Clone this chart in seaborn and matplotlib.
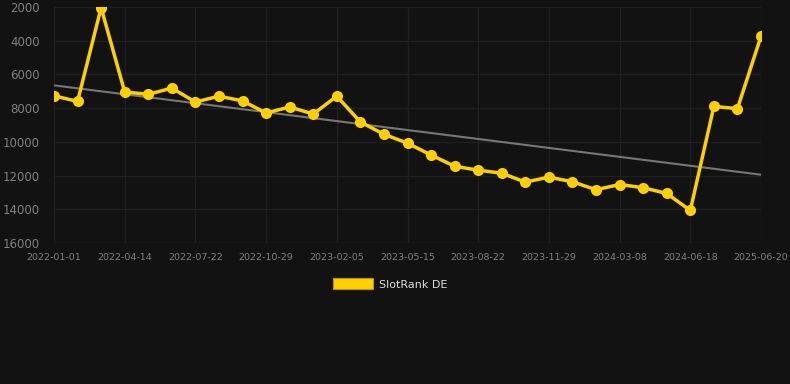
import numpy as np
import pandas as pd
import seaborn as sns
import matplotlib.pyplot as plt

# every point is one sample; only every third date is labelled
dates = [
    "2022-01-01", "2022-02-04", "2022-03-10", "2022-04-14", "2022-05-18",
    "2022-06-17", "2022-07-22", "2022-08-25", "2022-09-26", "2022-10-29",
    "2022-12-02", "2023-01-04", "2023-02-05", "2023-03-10", "2023-04-12",
    "2023-05-15", "2023-06-17", "2023-07-20", "2023-08-22", "2023-09-24",
    "2023-10-27", "2023-11-29", "2024-01-01", "2024-02-04", "2024-03-08",
    "2024-04-10", "2024-05-14", "2024-06-18", "2024-10-20", "2025-02-18",
    "2025-06-20",
]
rank = [
    7270, 7600, 2040, 7040, 7180, 6810, 7640, 7290, 7570, 8290,
    7930, 8350, 7290, 8820, 9550, 10080, 10780, 11450, 11680, 11860,
    12390, 12090, 12370, 12840, 12530, 12720, 13060, 14070, 7900, 8030,
    3740,
]
series_name = "SlotRank DE"

bg = "#121212"
yellow = "#FFD000"
tick_col = "#808080"
grid_col = "#1f1f1f"

df = pd.DataFrame({"pos": np.arange(len(dates)), "date": dates, "rank": rank})

sns.set_theme(style="dark")
plt.rcParams["font.family"] = ["DejaVu Sans"]

fig = plt.figure(figsize=(7.9, 3.84), dpi=100, facecolor=bg)
ax = fig.add_axes([54 / 790, 1 - 243 / 384, (761 - 54) / 790, (243 - 7) / 384])
ax.set_facecolor(bg)

sns.regplot(data=df, x="pos", y="rank", scatter=False, ci=None, ax=ax,
            line_kws={"color": "#777777", "linewidth": 1.5}, truncate=True)
sns.lineplot(data=df, x="pos", y="rank", ax=ax, color=yellow, linewidth=2.5,
             marker="o", markersize=8, markeredgewidth=0, zorder=3)

ax.set_ylim(16000, 2000)
ax.set_xlim(0, len(dates) - 1)
ax.set_yticks(np.arange(2000, 16001, 2000))
ax.set_yticklabels([str(v) for v in range(2000, 16001, 2000)])
ax.set_xticks(df["pos"][::3])
ax.set_xticklabels(df["date"][::3])

ax.grid(True, color=grid_col, linewidth=1)
ax.tick_params(axis="y", colors=tick_col, labelsize=8.5, length=0, pad=10)
ax.tick_params(axis="x", colors=tick_col, labelsize=6.8, length=4, width=1,
               pad=3, color="#262626")
for s in ax.spines.values():
    s.set_visible(False)
ax.axhline(16000, color="#2a2a2a", linewidth=1, zorder=1)
ax.set_xlabel("")
ax.set_ylabel("")

handle = plt.Rectangle((0, 0), 1, 1, facecolor=yellow, edgecolor="#b89400",
                       linewidth=0.8)
leg = fig.legend([handle], [series_name], loc="center",
                 bbox_to_anchor=(390 / 790, 1 - 284 / 384), frameon=False,
                 fontsize=8, handlelength=3.6, handleheight=1.1,
                 handletextpad=0.5)
for t in leg.get_texts():
    t.set_color("#dddddd")

fig.savefig("out.png", dpi=100, facecolor=bg)
